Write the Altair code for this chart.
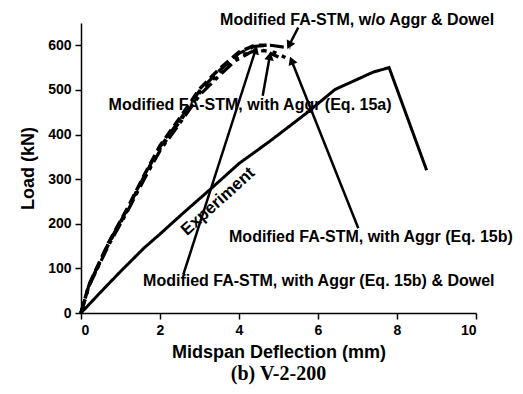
import math
import altair as alt
import pandas as pd

# ---------------- data ----------------
exp_x = [0, 0.5, 1.0, 1.6, 2.0, 2.6, 3.27, 4.0, 4.78, 5.71, 6.43, 7.4, 7.8, 8.75]
exp_y = [0, 47, 93, 146, 177, 225, 277, 335, 385, 448, 501, 540, 550, 320]

# Modified FA-STM, w/o Aggr & Dowel
a_x = [0, 0.2, 0.7, 1.2, 1.6, 2.0, 2.5, 3.0, 3.5, 4.0, 4.4, 4.8, 5.3]
a_y = [0, 62, 157, 237, 307, 372, 433, 498, 543, 582, 598, 600, 594]
# Modified FA-STM, with Aggr (Eq. 15a)
b_x = [0, 0.2, 0.7, 1.2, 1.6, 2.0, 2.5, 3.0, 3.5, 3.9, 4.3, 4.65, 5.0]
b_y = [0, 60, 152, 232, 300, 364, 425, 488, 532, 565, 585, 588, 574]
# Modified FA-STM, with Aggr (Eq. 15b)
c_x = [0, 0.2, 0.7, 1.2, 1.6, 2.0, 2.5, 3.0, 3.5, 4.0, 4.5, 4.9, 5.33]
c_y = [0, 61, 155, 234, 303, 368, 429, 493, 538, 576, 590, 584, 566]
# Modified FA-STM, with Aggr (Eq. 15b) & Dowel
d_x = [0, 0.2, 0.7, 1.2, 1.6, 2.0, 2.5, 3.0, 3.5, 4.0, 4.4, 4.7]
d_y = [0, 63, 158, 239, 309, 375, 437, 502, 547, 585, 600, 600]

series_names = ["Experiment", "w/o Aggr & Dowel", "Eq. 15a", "Eq. 15b", "Eq. 15b & Dowel"]
series_dash = [[1, 0], [14, 6], [14, 5, 4, 5], [4, 6], [10, 5]]
series_width = [3, 3.5, 3.5, 3.5, 3.5]

label_text = [
    "Modified FA-STM, w/o Aggr & Dowel",
    "Modified FA-STM, with Aggr (Eq. 15a)",
    "Modified FA-STM, with Aggr (Eq. 15b)",
    "Modified FA-STM, with Aggr (Eq. 15b) & Dowel",
]
label_x = [6.99, 4.28, 7.34, 6.02]
label_y = [645, 455, 160, 60]

arrow_x1 = [5.50, 4.60, 7.02, 2.59]
arrow_y1 = [640, 487, 190, 86]
arrow_x2 = [5.27, 4.78, 5.33, 4.42]
arrow_y2 = [600, 576, 566, 590]

exp_label = "Experiment"
exp_label_x = 3.47
exp_label_y = 250

x_ticks = [0, 1, 2, 3, 4, 5, 6, 7, 8, 9, 10]
y_ticks = list(range(0, 651, 50))

# ---------------- build tables ----------------
W, H = 395, 290
XMAX, YMAX = 10, 650
sx, sy = W / XMAX, H / YMAX

rows = []
for name, xs, ys in zip(series_names, [exp_x, a_x, b_x, c_x, d_x], [exp_y, a_y, b_y, c_y, d_y]):
    for i, (x, y) in enumerate(zip(xs, ys)):
        rows.append({"series": name, "x": x, "y": y, "i": i})
curves = pd.DataFrame(rows)

labels = pd.DataFrame({"text": label_text, "x": label_x, "y": label_y})

ang = []
for x1, y1, x2, y2 in zip(arrow_x1, arrow_y1, arrow_x2, arrow_y2):
    a = math.degrees(math.atan2((x2 - x1) * sx, (y2 - y1) * sy)) % 360
    ang.append(a)
arrows = pd.DataFrame({"x1": arrow_x1, "y1": arrow_y1, "x2": arrow_x2, "y2": arrow_y2, "angle": ang})

exp_df = pd.DataFrame({"text": [exp_label], "x": [exp_label_x], "y": [exp_label_y]})

xscale = alt.Scale(domain=[0, XMAX], nice=False, zero=True)
yscale = alt.Scale(domain=[0, YMAX], nice=False, zero=True)

x_axis = alt.Axis(
    title="Midspan Deflection (mm)", values=x_ticks,
    labelExpr="datum.value % 2 === 0 ? datum.label : ''",
    tickSize={"condition": {"test": "datum.value % 2 === 0", "value": 6}, "value": 4},
    grid=False, labelPadding=4, titlePadding=6,
)
y_axis = alt.Axis(
    title="Load (kN)", values=y_ticks,
    labelExpr="datum.value % 100 === 0 ? datum.label : ''",
    tickSize={"condition": {"test": "datum.value % 100 === 0", "value": 6}, "value": 3},
    grid=False, labelPadding=4, titlePadding=10,
)

FONT = "Liberation Sans"

lines = alt.Chart(curves).mark_line(color="black", strokeCap="butt").encode(
    x=alt.X("x:Q", scale=xscale, axis=x_axis),
    y=alt.Y("y:Q", scale=yscale, axis=y_axis),
    detail="series:N",
    order="i:Q",
    strokeDash=alt.StrokeDash("series:N", scale=alt.Scale(domain=series_names, range=series_dash), legend=None),
    strokeWidth=alt.StrokeWidth("series:N", scale=alt.Scale(domain=series_names, range=series_width), legend=None),
)

rules = alt.Chart(arrows).mark_rule(color="black", strokeWidth=2.5).encode(
    x="x1:Q", y="y1:Q", x2="x2:Q", y2="y2:Q"
)

heads = alt.Chart(arrows).mark_point(shape="triangle-up", filled=True, color="black", size=90, opacity=1).encode(
    x="x2:Q", y="y2:Q", angle=alt.Angle("angle:Q", scale=None)
)

texts = alt.Chart(labels).mark_text(
    font=FONT, fontSize=16, fontWeight="bold", color="black", align="center", baseline="alphabetic"
).encode(x="x:Q", y="y:Q", text="text:N")

exp_text = alt.Chart(exp_df).mark_text(
    font=FONT, fontSize=17, fontWeight="bold", color="black", align="center", baseline="middle", angle=318
).encode(x="x:Q", y="y:Q", text="text:N")

chart = alt.layer(lines, rules, heads, texts, exp_text).properties(
    width=W, height=H,
    title=alt.TitleParams("(b) V-2-200", orient="bottom", font="Liberation Serif", fontSize=20,
                          fontWeight="bold", color="black", offset=3),
    autosize=alt.AutoSizeParams(type="none"),
    padding={"left": 73, "top": 15, "right": 38, "bottom": 73},
).configure_view(stroke=None).configure_axis(
    domainColor="black", domainWidth=1.5, tickColor="black", tickWidth=1.5,
    labelFont=FONT, labelFontSize=14, labelFontWeight="bold", labelColor="black",
    titleFont=FONT, titleFontSize=18, titleFontWeight="bold", titleColor="black",
)

chart.save("out.html", embed_options={"renderer": "svg", "actions": False})
